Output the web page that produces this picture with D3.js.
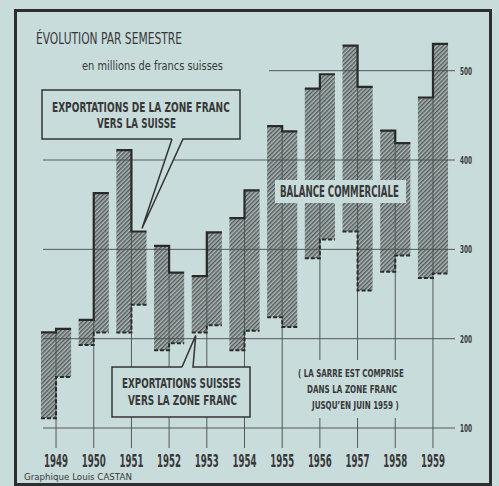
<!DOCTYPE html>
<html>
<head>
<meta charset="utf-8">
<script src="https://cdn.jsdelivr.net/npm/d3@7"></script>
<style>
  html, body { margin: 0; padding: 0; background: #c9dcdc; }
  svg { display: block; }
</style>
</head>
<body>
<script>
// years and the two half-year values (millions de francs suisses)
const years = [1949, 1950, 1951, 1952, 1953, 1954, 1955, 1956, 1957, 1958, 1959];
// exportations de la zone franc vers la Suisse (1er sem., 2e sem.)
const exportsZoneFranc = [207, 211, 221, 363, 411, 320, 304, 274, 270, 319, 335, 366, 438, 432, 480, 496, 528, 482, 433, 419, 470, 530];
// exportations suisses vers la zone franc
const exportsSuisses = [111, 157, 193, 207, 207, 238, 187, 195, 207, 215, 187, 209, 224, 213, 290, 311, 320, 254, 275, 293, 268, 273];
const yTicks = [100, 200, 300, 400, 500];

const W = 499, H = 486;
const bg = '#c9dcdc';
const ink = '#383838';
const condensed = "'Liberation Sans Narrow', 'DejaVu Sans Condensed', sans-serif";

const svg = d3.select('body').append('svg')
  .attr('width', W)
  .attr('height', H);

// hatch pattern for the balance
const defs = svg.append('defs');
const pat = defs.append('pattern')
  .attr('id', 'hatch')
  .attr('patternUnits', 'userSpaceOnUse')
  .attr('width', 3)
  .attr('height', 3)
  .attr('patternTransform', 'rotate(45)');
pat.append('rect').attr('width', 3).attr('height', 3).attr('fill', '#aab8b8');
pat.append('line')
  .attr('x1', 0.75).attr('y1', 0)
  .attr('x2', 0.75).attr('y2', 3)
  .attr('stroke', '#4a4f4f')
  .attr('stroke-width', 1.3);

svg.append('rect').attr('width', W).attr('height', H).attr('fill', bg);
svg.append('rect')
  .attr('x', 15.5).attr('y', 10.5)
  .attr('width', 475).attr('height', 474)
  .attr('fill', 'none')
  .attr('stroke', '#2e2e2e')
  .attr('stroke-width', 3);

// scales
const x = d3.scaleBand()
  .domain(years)
  .range([37.2, 451.8])
  .paddingInner(0.2)
  .paddingOuter(0.1);
const y = d3.scaleLinear().domain([100, 500]).range([428, 70.7]);
const bw = x.bandwidth();
const half = bw / 2;

const rows = years.map((yr, i) => ({
  year: yr,
  top: [exportsZoneFranc[2 * i], exportsZoneFranc[2 * i + 1]],
  bot: [exportsSuisses[2 * i], exportsSuisses[2 * i + 1]]
}));
const semesters = rows.flatMap(r => [0, 1].map(s => ({
  year: r.year, s, top: r.top[s], bot: r.bot[s]
})));

// hatched bars
svg.append('g').selectAll('rect')
  .data(semesters)
  .join('rect')
  .attr('x', d => x(d.year) + d.s * half)
  .attr('y', d => y(d.top))
  .attr('width', half)
  .attr('height', d => y(d.bot) - y(d.top))
  .attr('fill', 'url(#hatch)');

// horizontal reference lines
svg.append('g').selectAll('line')
  .data(yTicks)
  .join('line')
  .attr('x1', d => d === 500 ? 269 : 43)
  .attr('x2', 455)
  .attr('y1', d => y(d))
  .attr('y2', d => y(d))
  .attr('stroke', '#4a4a4a')
  .attr('stroke-width', 0.9);

// year lines
svg.append('g').selectAll('line')
  .data(rows)
  .join('line')
  .attr('x1', d => x(d.year) + half)
  .attr('x2', d => x(d.year) + half)
  .attr('y1', d => y(Math.max(d.top[0], d.top[1])))
  .attr('y2', 448)
  .attr('stroke', '#4a4a4a')
  .attr('stroke-width', 0.9);

// stepped top (solid) and bottom (dashed) lines
const step = (r, key) => {
  const x0 = x(r.year);
  return `M${x0},${y(r[key][0])}H${x0 + half}V${y(r[key][1])}H${x0 + bw}`;
};
svg.append('g').selectAll('path')
  .data(rows)
  .join('path')
  .attr('d', r => step(r, 'top'))
  .attr('fill', 'none')
  .attr('stroke', '#2a2a2a')
  .attr('stroke-width', 2.2);
svg.append('g').selectAll('path')
  .data(rows)
  .join('path')
  .attr('d', r => step(r, 'bot'))
  .attr('fill', 'none')
  .attr('stroke', '#2a2a2a')
  .attr('stroke-width', 2)
  .attr('stroke-dasharray', '4,2');

// text squeezed horizontally to a given width
function label(t, px, py, size, len, opts = {}) {
  const el = svg.append('text')
    .attr('font-family', opts.family || condensed)
    .attr('font-weight', opts.weight || 'bold')
    .attr('font-size', size)
    .attr('fill', ink)
    .text(t);
  const w = el.node().getComputedTextLength();
  el.attr('transform', `translate(${px},${py}) scale(${len / w},1)`);
  return el;
}

// balance label
svg.append('rect')
  .attr('x', 275).attr('y', 180).attr('width', 131).attr('height', 23)
  .attr('fill', bg);
label('BALANCE COMMERCIALE', 280, 197, 15, 119);

// Sarre note (cuts the year lines)
svg.append('rect')
  .attr('x', 296).attr('y', 360).attr('width', 110).attr('height', 58)
  .attr('fill', bg);
label('( LA SARRE EST COMPRISE', 298, 377, 10.5, 106);
label('DANS LA ZONE FRANC', 307, 393, 10.5, 90);
label('JUSQU\u2019EN JUIN 1959 )', 312, 409, 10.5, 87);

// callout: exportations de la zone franc
const tip1 = [x(1951) + bw * 0.85, y(320) - 3];
svg.append('rect')
  .attr('x', 42).attr('y', 90).attr('width', 198).attr('height', 49)
  .attr('fill', bg);
svg.append('path')
  .attr('d', `M172,139L${tip1[0]},${tip1[1]}L183,139Z`)
  .attr('fill', bg);
svg.append('path')
  .attr('d', `M172,139H42V90H240V139H183L${tip1[0]},${tip1[1]}L172,139`)
  .attr('fill', 'none')
  .attr('stroke', '#333')
  .attr('stroke-width', 1.5);
label('EXPORTATIONS DE LA ZONE FRANC', 52, 112, 14.5, 178);
label('VERS LA SUISSE', 97, 128, 14.5, 79);

// callout: exportations suisses
const tip2 = [x(1953) + 4, y(207) + 3];
svg.append('rect')
  .attr('x', 112).attr('y', 367).attr('width', 138).attr('height', 50)
  .attr('fill', bg);
svg.append('path')
  .attr('d', `M182,367L${tip2[0]},${tip2[1]}L193,367Z`)
  .attr('fill', bg);
svg.append('path')
  .attr('d', `M182,367H112V417H250V367H193L${tip2[0]},${tip2[1]}L182,367`)
  .attr('fill', 'none')
  .attr('stroke', '#333')
  .attr('stroke-width', 1.5);
label('EXPORTATIONS SUISSES', 122, 388, 14, 119);
label('VERS LA ZONE FRANC', 128, 405, 14, 109);

// y tick labels
yTicks.forEach(v => label(String(v), 460, y(v) + 4, 11, 12));

// year labels
years.forEach(yr => label(String(yr), x(yr) + half - 12, 467, 17, 24));

// titles
label('\u00C9VOLUTION PAR  SEMESTRE', 36, 44, 16, 146, { weight: 'normal' });
label('en millions de francs suisses', 82, 70, 12.5, 141, { weight: 'normal' });
label('Graphique Louis CASTAN', 24, 480, 9.5, 108, { family: "'DejaVu Sans', sans-serif", weight: 'normal' });
</script>
</body>
</html>
